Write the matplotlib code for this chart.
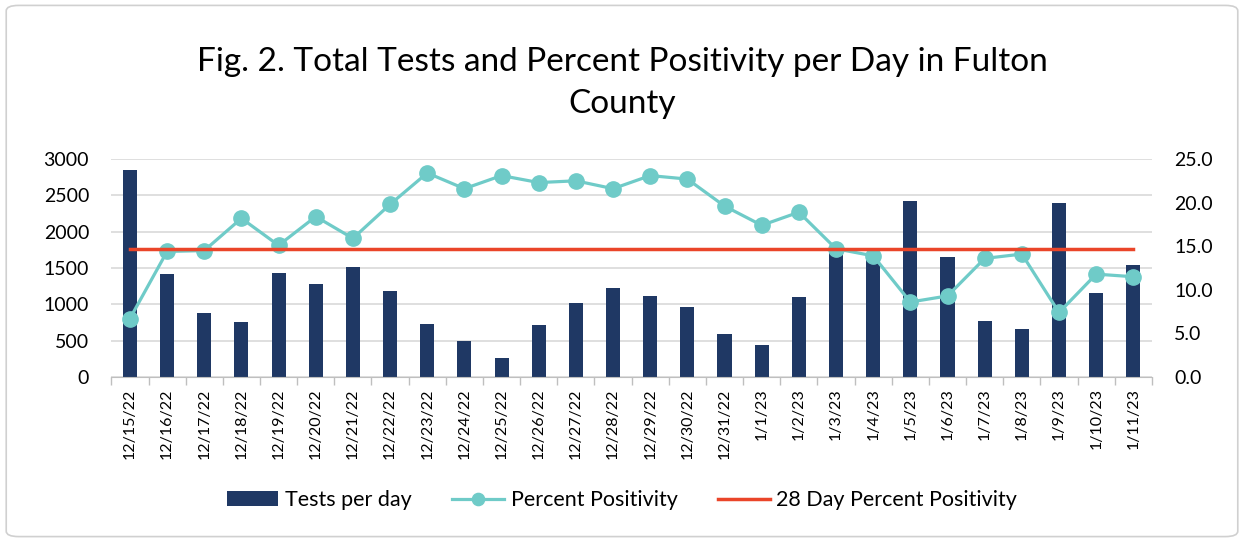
import numpy as np
import matplotlib
matplotlib.use('Agg')
import matplotlib.pyplot as plt
from matplotlib.patches import FancyBboxPatch
from matplotlib.ticker import FormatStrFormatter, FixedLocator

plt.rcParams['font.family'] = ['Lato', 'DejaVu Sans']

dates = ['12/15/22', '12/16/22', '12/17/22', '12/18/22', '12/19/22', '12/20/22', '12/21/22',
         '12/22/22', '12/23/22', '12/24/22', '12/25/22', '12/26/22', '12/27/22', '12/28/22',
         '12/29/22', '12/30/22', '12/31/22', '1/1/23', '1/2/23', '1/3/23', '1/4/23',
         '1/5/23', '1/6/23', '1/7/23', '1/8/23', '1/9/23', '1/10/23', '1/11/23']
tests = [2843, 1412, 881, 751, 1426, 1280, 1508, 1183, 729, 500, 256, 720, 1022, 1225,
         1109, 963, 592, 445, 1105, 1780, 1673, 2417, 1651, 765, 660, 2394, 1160, 1541]
pos = [6.7, 14.4, 14.5, 18.2, 15.1, 18.4, 15.9, 19.8, 23.4, 21.6, 23.1, 22.3, 22.5, 21.6,
       23.1, 22.7, 19.6, 17.4, 18.9, 14.7, 13.9, 8.6, 9.3, 13.6, 14.1, 7.4, 11.8, 11.5]
pos28 = [14.7] * len(dates)

navy = '#1F3864'
teal = '#6FCBC8'
red = '#EA4529'

fig = plt.figure(figsize=(12.44, 5.42), dpi=100)
ax = fig.add_axes([0.0895, 0.3044, 0.8365, 0.4022])
ax2 = ax.twinx()

x = np.arange(len(dates))
ax.bar(x, tests, width=0.38, color=navy, label='Tests per day', zorder=2)
ax.set_ylim(0, 3000)
ax.set_xlim(-0.5, len(dates) - 0.5)
ax.set_yticks(np.arange(0, 3001, 500))
ax.grid(axis='y', color='#D9D9D9', lw=1.2, zorder=0)
ax.set_axisbelow(True)

ax2.plot(x, pos, color=teal, lw=2.3, marker='o', ms=11, label='Percent Positivity', zorder=3)
ax2.plot(x, pos28, color=red, lw=2.5, label='28 Day Percent Positivity', zorder=4)
ax2.set_ylim(0, 25)
ax2.set_yticks(np.arange(0, 25.1, 5))
ax2.yaxis.set_major_formatter(FormatStrFormatter('%.1f'))

for a in (ax, ax2):
    for s in ('top', 'left', 'right'):
        a.spines[s].set_visible(False)
    a.spines['bottom'].set_color('#BFBFBF')
    a.tick_params(axis='y', length=0, labelsize=14, colors='black', pad=16)
ax2.spines['bottom'].set_visible(False)

ax.set_xticks(x)
ax.set_xticklabels(dates, rotation=90, fontsize=11.5)
ax.tick_params(axis='x', which='major', length=0, pad=8)
ax.xaxis.set_minor_locator(FixedLocator(np.arange(-0.5, len(dates), 1.0)))
ax.tick_params(axis='x', which='minor', length=6, color='#BFBFBF', width=1)

fig.text(0.5, 0.846, 'Fig. 2. Total Tests and Percent Positivity per Day in Fulton\nCounty',
         ha='center', va='center', fontsize=24, linespacing=1.5)

h1, l1 = ax.get_legend_handles_labels()
h2, l2 = ax2.get_legend_handles_labels()
fig.legend(h1 + h2, l1 + l2, loc='center', bbox_to_anchor=(0.5, 0.077), ncol=3,
           frameon=False, fontsize=15.5, handlelength=2.4, handletextpad=0.3,
           columnspacing=1.9, markerscale=0.8)

fig.patches.append(FancyBboxPatch((0.005, 0.01), 0.99, 0.98, boxstyle='round,pad=0,rounding_size=0.01',
                                  transform=fig.transFigure, fill=False, ec='#D0D0D0', lw=1.2))

fig.savefig('out.png', dpi=100, facecolor='white')
